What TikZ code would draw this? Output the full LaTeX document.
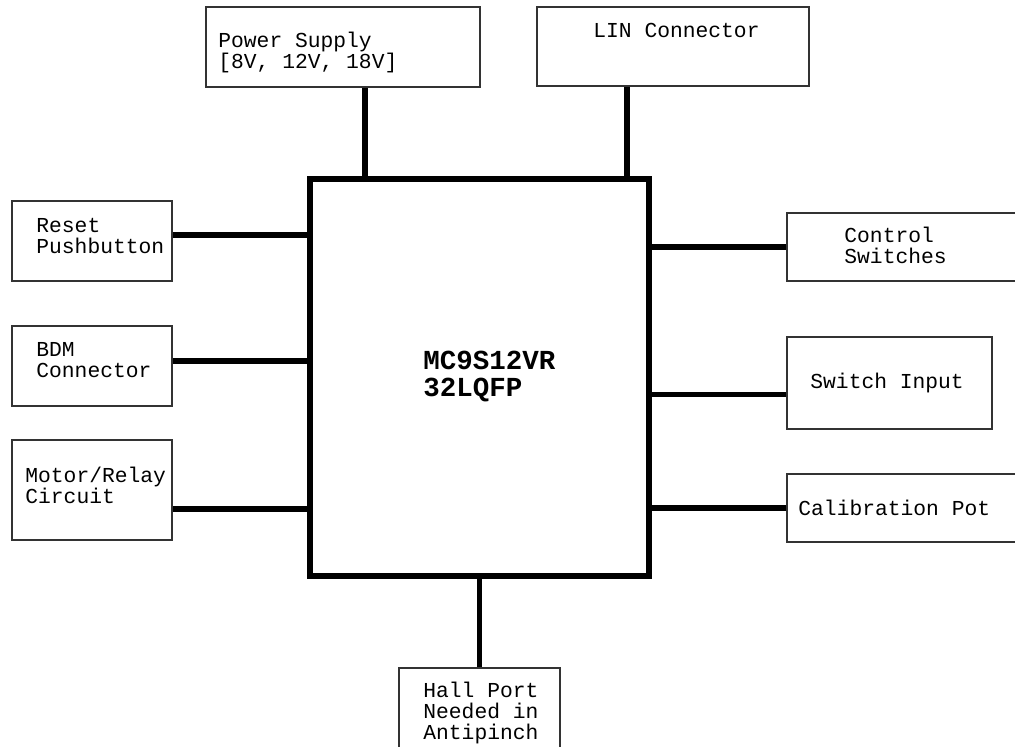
\documentclass[tikz,border=0pt]{standalone}
\usepackage{fontspec}
\setmonofont{Liberation Mono}
\usetikzlibrary{positioning,calc}

\begin{document}
\begin{tikzpicture}[x=0.5pt,y=-0.5pt,
font=\ttfamily\fontsize{10.65}{10.5}\selectfont,
box/.style={draw=black!80,line width=1pt,inner sep=0pt},
chip/.style={draw,line width=3pt,inner sep=0pt},
lbl/.style={anchor=west,align=left,inner sep=0pt},
wire/.style={line width=2.8pt}]
\clip (0,0) rectangle (1015,747);
\node[chip,minimum width=169.5pt,minimum height=198.5pt] (mcu) at (479.5,377.5) {};
\node[box,minimum width=137pt,minimum height=40pt] (pwr) at (343,47) {};
\node[box,minimum width=136pt,minimum height=39.5pt] (lin) at (673,46.5) {};
\node[box,minimum width=80pt,minimum height=40pt] (rst) at (92,241) {};
\node[box,minimum width=80pt,minimum height=40pt] (bdm) at (92,366) {};
\node[box,minimum width=80pt,minimum height=50pt] (mot) at (92,490) {};
\node[box,minimum width=121.5pt,minimum height=34pt] (ctl) at (908.5,247) {};
\node[box,minimum width=102.5pt,minimum height=46pt] (swi) at (889.5,383) {};
\node[box,minimum width=121.5pt,minimum height=34pt] (cal) at (908.5,508) {};
\node[box,minimum width=80.5pt,minimum height=51pt] (hall) at (479.5,719) {};

\node[lbl,font=\ttfamily\bfseries\fontsize{13.75}{13.5}\selectfont] (mcut) at (423,376.5) {MC9S12VR\\32LQFP};
\node[lbl] (pwrt) at (218,52.5) {Power Supply\\{[8V, 12V, 18V]}};
\node[lbl] (lint) at (593,30) {LIN Connector};
\node[lbl] (rstt) at (36,236) {Reset\\Pushbutton};
\node[lbl] (bdmt) at (36,360) {BDM\\Connector};
\node[lbl] (mott) at (25,485.5) {Motor/Relay\\Circuit};
\node[lbl] (ctlt) at (844,245.5) {Control\\Switches};
\node[lbl] (swit) at (810,383) {Switch Input};
\node[lbl] (calt) at (798,508) {Calibration Pot};
\node[lbl] (hallt) at (423,713) {Hall Port\\Needed in\\Antipinch};

\draw[wire] ([xshift=11pt]pwr.south)--([xshift=11pt]pwr.south|-mcu.north);
\draw[wire] ([xshift=-23pt]lin.south)--([xshift=-23pt]lin.south|-mcu.north);
\draw[wire] ([yshift=3pt]rst.east)--([yshift=3pt]rst.east-|mcu.west);
\draw[wire] ([yshift=2.5pt]bdm.east)--([yshift=2.5pt]bdm.east-|mcu.west);
\draw[wire] ([yshift=-9.5pt]mot.east)--([yshift=-9.5pt]mot.east-|mcu.west);
\draw[wire] (ctl.west)--(ctl.west-|mcu.east);
\draw[wire] ([yshift=-5.8pt]swi.west)--([yshift=-5.8pt]swi.west-|mcu.east);
\draw[wire] (cal.west)--(cal.west-|mcu.east);
\draw[wire] (hall.north)--(mcu.south);
\end{tikzpicture}
\end{document}
